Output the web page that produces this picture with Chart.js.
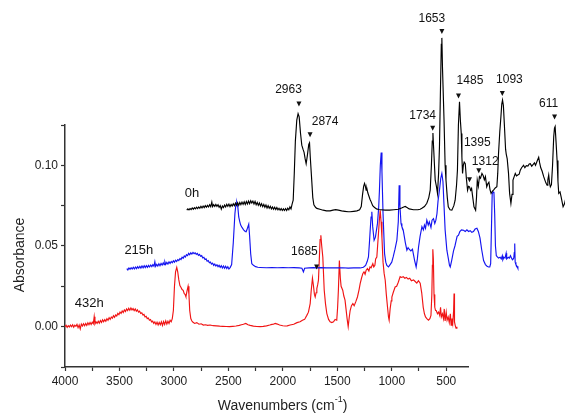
<!DOCTYPE html>
<html><head><meta charset="utf-8">
<script src="https://cdn.jsdelivr.net/npm/chart.js@4/dist/chart.umd.min.js"></script>
<style>html,body{margin:0;padding:0;background:#fff}#wrap{width:565px;height:414px;position:relative}</style>
</head><body><div id="wrap"><canvas id="c" width="565" height="414"></canvas></div>
<script>
// ---- 0h (black) ----
const blackX = [2882,2872,2862,2852,2842,2832,2822,2812,2802,2792,2782,2772,2762,2752,2742,2732,2722,2712,2702,2692,2682,2672,2662,2652,2645,2635,2625,2615,2605,2595,2585,2575,2565,2555,2545,2535,2525,2515,2505,2495,2485,2475,2465,2455,2445,2435,2425,2415,2405,2395,2385,2375,2365,2355,2345,2335,2325,2315,2305,2295,2285,2275,2265,2255,2245,2235,2225,2215,2205,2195,2185,2175,2165,2155,2145,2135,2125,2115,2105,2095,2085,2075,2065,2055,2045,2035,2025,2015,2005,1995,1985,1975,1965,1955,1945,1935,1925,1915,1905,1895,1885,1872,1860,1850,1838,1826,1815,1805,1795,1786,1775,1762,1755,1748,1735,1725,1715,1700,1688,1660,1630,1600,1566,1540,1515,1490,1460,1430,1400,1382,1350,1320,1295,1280,1268,1258,1250,1244,1235,1228,1220,1210,1200,1190,1175,1160,1140,1122,1100,1060,1020,980,940,910,890,877,860,840,800,760,739,720,700,678,660,647,636,628,622,615,601,590,580,570,562,552,545,540,534,520,510,502,490,481,465,448,430,418,405,397,388,378,370,362,356,350,343,335,325,315,304,295,286,276,267,256,245,230,222,215,205,195,185,172,160,150,140,128,118,108,98,88,75,62,50,35,27,20,8,-2,-10,-17,-25,-34,-45,-51,-60,-72,-82,-94,-104,-113,-124,-134,-145,-157,-170,-180,-192,-210,-222,-235,-250,-262,-272,-285,-297,-310,-320,-334,-349,-358,-368,-380,-395,-405,-416,-426,-433,-441,-449,-456,-466,-476,-487,-494,-500,-508,-518,-526,-533,-545,-555,-565,-573,-585,-594,-605];
const blackY = [0.0722,0.0730,0.0724,0.0732,0.0726,0.0736,0.0728,0.0738,0.0730,0.0740,0.0732,0.0742,0.0734,0.0746,0.0736,0.0748,0.0738,0.0750,0.0740,0.0752,0.0742,0.0756,0.0744,0.0772,0.0744,0.0756,0.0746,0.0758,0.0746,0.0756,0.0740,0.0750,0.0728,0.0748,0.0738,0.0754,0.0742,0.0758,0.0746,0.0760,0.0744,0.0758,0.0748,0.0762,0.0750,0.0766,0.0752,0.0768,0.0752,0.0770,0.0756,0.0772,0.0758,0.0774,0.0758,0.0776,0.0760,0.0778,0.0762,0.0780,0.0766,0.0778,0.0760,0.0776,0.0756,0.0770,0.0752,0.0766,0.0748,0.0762,0.0744,0.0758,0.0740,0.0754,0.0736,0.0750,0.0734,0.0746,0.0730,0.0742,0.0728,0.0740,0.0726,0.0738,0.0724,0.0734,0.0722,0.0732,0.0720,0.0730,0.0720,0.0732,0.0720,0.0734,0.0724,0.0742,0.0730,0.0760,0.0784,0.095,0.115,0.128,0.132,0.130,0.120,0.1125,0.110,0.108,0.104,0.101,0.106,0.113,0.114,0.105,0.091,0.080,0.0755,0.0740,0.0733,0.0728,0.0722,0.0718,0.0718,0.0722,0.0725,0.0722,0.0718,0.0715,0.0712,0.0712,0.0715,0.0718,0.0725,0.0745,0.0820,0.0870,0.0888,0.0875,0.0846,0.0855,0.0830,0.0810,0.0790,0.0775,0.0750,0.0740,0.0730,0.0726,0.0725,0.0722,0.0722,0.0725,0.0728,0.0735,0.0742,0.0745,0.0738,0.0730,0.0725,0.0725,0.0728,0.0735,0.0745,0.0765,0.0800,0.0846,0.100,0.115,0.120,0.110,0.0908,0.0870,0.0826,0.095,0.1115,0.150,0.175,0.179,0.160,0.128,0.100,0.0908,0.080,0.0743,0.0725,0.0722,0.0750,0.0784,0.088,0.097,0.125,0.1394,0.128,0.1198,0.105,0.095,0.100,0.102,0.101,0.092,0.0846,0.0870,0.0867,0.0845,0.0857,0.080,0.0743,0.0722,0.080,0.0908,0.087,0.093,0.092,0.095,0.0935,0.091,0.0930,0.0867,0.0885,0.0895,0.085,0.0826,0.0840,0.0850,0.0860,0.0867,0.095,0.107,0.121,0.130,0.138,0.1404,0.137,0.125,0.110,0.107,0.104,0.095,0.0826,0.0764,0.082,0.0908,0.093,0.095,0.0935,0.094,0.0945,0.097,0.0985,0.100,0.0985,0.0998,0.0995,0.1008,0.101,0.0995,0.1005,0.1015,0.1000,0.1025,0.105,0.1015,0.0985,0.0965,0.093,0.091,0.089,0.0877,0.0910,0.094,0.0890,0.0867,0.0880,0.0995,0.1177,0.123,0.124,0.115,0.103,0.090,0.0826,0.0835,0.0805,0.0770,0.0743,0.0760,0.0784,0.0760];

// ---- 215h (blue) ----
const blueX = [3433,3423,3413,3403,3393,3383,3373,3363,3353,3343,3333,3323,3313,3303,3293,3283,3273,3263,3253,3243,3233,3223,3213,3203,3193,3183,3175,3168,3158,3148,3138,3128,3118,3108,3098,3090,3083,3075,3065,3055,3045,3035,3025,3015,3005,2995,2985,2975,2965,2955,2945,2935,2925,2915,2905,2895,2885,2875,2865,2855,2845,2835,2825,2815,2805,2795,2785,2775,2765,2755,2745,2735,2725,2715,2705,2695,2685,2675,2665,2655,2645,2635,2625,2615,2605,2595,2585,2575,2565,2555,2545,2535,2525,2515,2505,2495,2484,2470,2455,2440,2430,2423,2413,2405,2395,2387,2375,2360,2345,2337,2325,2313,2305,2295,2285,2270,2250,2230,2209,2150,2100,2050,2000,1950,1900,1850,1825,1811,1800,1760,1720,1688,1650,1600,1550,1500,1450,1400,1350,1290,1260,1240,1225,1214,1205,1198,1190,1183,1175,1162,1150,1140,1131,1120,1113,1105,1097,1090,1080,1066,1055,1045,1030,1015,1000,987,970,953,940,932,925,915,907,895,885,875,861,850,840,825,810,800,790,776,765,754,740,723,710,700,690,678,665,655,640,630,617,605,595,585,575,562,550,540,530,520,510,494,480,470,463,450,433,420,410,400,387,375,360,341,325,310,295,280,265,250,235,218,205,190,175,157,140,125,111,100,92,85,78,70,62,55,48,40,30,20,5,-5,-15,-20,-30,-40,-50,-55,-70,-80,-90,-103,-110,-120,-125,-129,-133,-140,-150,-158];
const blueY = [0.0360,0.0352,0.0364,0.0356,0.0366,0.0357,0.0368,0.0358,0.0370,0.0360,0.0372,0.0362,0.0374,0.0363,0.0376,0.0365,0.0378,0.0366,0.0378,0.0368,0.0380,0.0370,0.0382,0.0372,0.0384,0.0374,0.0402,0.0374,0.0386,0.0376,0.0390,0.0378,0.0392,0.0382,0.0396,0.0384,0.0402,0.0386,0.0398,0.0388,0.0402,0.0392,0.0404,0.0396,0.0408,0.0400,0.0412,0.0404,0.0416,0.0410,0.0422,0.0416,0.0430,0.0424,0.0438,0.0432,0.0446,0.0440,0.0454,0.0446,0.0458,0.0450,0.0460,0.0452,0.0458,0.0448,0.0454,0.0442,0.0448,0.0436,0.0440,0.0426,0.0430,0.0416,0.0420,0.0406,0.0410,0.0396,0.0400,0.0388,0.0394,0.0380,0.0388,0.0376,0.0384,0.0372,0.0380,0.0368,0.0378,0.0364,0.0376,0.0362,0.0374,0.0360,0.0372,0.0358,0.0366,0.0385,0.0520,0.0700,0.0764,0.0770,0.0740,0.0680,0.0650,0.0630,0.0615,0.0600,0.0590,0.0588,0.0610,0.0635,0.0560,0.0450,0.0390,0.0380,0.0372,0.0368,0.0367,0.0365,0.0366,0.0365,0.0366,0.0365,0.0366,0.0364,0.0362,0.0340,0.0362,0.0364,0.0366,0.0364,0.0366,0.0364,0.0365,0.0364,0.0365,0.0363,0.0364,0.0364,0.0368,0.0380,0.0405,0.0432,0.0520,0.0598,0.0680,0.0712,0.0620,0.0536,0.0555,0.0600,0.0640,0.0740,0.0846,0.1000,0.1080,0.0960,0.0700,0.0453,0.0400,0.0380,0.0370,0.0385,0.0400,0.0432,0.0480,0.0536,0.0650,0.0877,0.0750,0.0640,0.0620,0.0600,0.0560,0.0520,0.0474,0.0490,0.0480,0.0470,0.0480,0.0445,0.0410,0.0370,0.0420,0.0494,0.0560,0.0620,0.0600,0.0630,0.0610,0.0660,0.0630,0.0650,0.0615,0.0660,0.0670,0.0640,0.0660,0.0700,0.0780,0.0846,0.0920,0.0950,0.0900,0.0750,0.0600,0.0474,0.0420,0.0380,0.0370,0.0410,0.0470,0.0500,0.0530,0.0560,0.0567,0.0590,0.0600,0.0598,0.0590,0.0600,0.0590,0.0595,0.0585,0.0590,0.0605,0.0610,0.0590,0.0550,0.0480,0.0410,0.0385,0.0375,0.0370,0.0370,0.0390,0.0600,0.0820,0.0836,0.0835,0.0700,0.0500,0.0440,0.0432,0.0425,0.0430,0.0420,0.0440,0.0415,0.0430,0.0425,0.0455,0.0420,0.0430,0.0425,0.0440,0.0420,0.0415,0.0425,0.0460,0.0515,0.0400,0.0385,0.0375,0.0362];

// ---- 432h (red) ----
const redX = [4000,3990,3980,3970,3960,3950,3940,3930,3920,3910,3900,3890,3880,3870,3860,3850,3840,3830,3820,3810,3800,3790,3780,3770,3760,3750,3740,3732,3725,3715,3705,3695,3685,3675,3665,3655,3645,3635,3625,3615,3605,3595,3585,3575,3565,3555,3545,3535,3525,3515,3505,3495,3485,3475,3465,3455,3445,3435,3425,3415,3405,3395,3385,3375,3365,3355,3345,3335,3325,3315,3305,3295,3285,3275,3265,3255,3245,3235,3225,3215,3205,3195,3185,3175,3165,3155,3145,3135,3125,3115,3105,3095,3085,3075,3065,3055,3045,3035,3025,3015,3005,2995,2985,2974,2965,2955,2945,2937,2925,2915,2905,2898,2890,2880,2870,2862,2855,2845,2835,2827,2810,2790,2770,2750,2730,2710,2690,2668,2640,2610,2580,2550,2520,2490,2460,2430,2400,2380,2362,2340,2320,2300,2270,2240,2209,2180,2150,2120,2100,2087,2070,2050,2030,2000,1980,1960,1933,1900,1870,1842,1820,1800,1780,1765,1749,1740,1728,1720,1710,1703,1695,1688,1680,1673,1665,1658,1651,1643,1633,1620,1608,1596,1580,1566,1550,1535,1520,1505,1497,1490,1481,1472,1465,1450,1440,1429,1420,1410,1400,1390,1382,1370,1357,1345,1330,1315,1300,1290,1278,1265,1255,1245,1235,1223,1210,1200,1190,1174,1165,1155,1148,1137,1130,1122,1114,1106,1098,1090,1080,1070,1060,1050,1039,1030,1024,1015,1005,999,985,969,955,940,923,910,895,880,865,850,835,820,800,785,770,755,739,725,711,700,690,678,663,650,640,632,627,623,618,612,605,598,592,580,570,560,552,545,535,525,518,510,500,492,482,472,462,455,447,440,432,428,424,418,410,402];
const redY = [0.0000,0.0008,-0.0004,0.0006,-0.0002,0.0010,0.0000,0.0012,-0.0003,0.0009,0.0002,0.0014,-0.0006,0.0010,-0.0014,0.0016,0.0004,0.0018,0.0006,0.0020,0.0008,0.0024,0.0012,0.0026,0.0014,0.0028,0.0018,0.0062,0.0016,0.0030,0.0020,0.0034,0.0022,0.0038,0.0026,0.0042,0.0030,0.0044,0.0034,0.0050,0.0040,0.0055,0.0045,0.0060,0.0052,0.0068,0.0058,0.0072,0.0066,0.0082,0.0074,0.0090,0.0082,0.0098,0.0088,0.0104,0.0094,0.0110,0.0100,0.0114,0.0102,0.0116,0.0104,0.0112,0.0100,0.0110,0.0096,0.0104,0.0090,0.0096,0.0082,0.0086,0.0072,0.0076,0.0060,0.0064,0.0050,0.0054,0.0040,0.0044,0.0030,0.0034,0.0020,0.0030,0.0014,0.0028,0.0010,0.0026,0.0012,0.0030,0.0008,0.0032,0.0014,0.0036,0.0016,0.0034,0.0020,0.0040,0.0030,0.0050,0.0100,0.0250,0.0340,0.0367,0.0340,0.0290,0.0255,0.0246,0.0230,0.0225,0.0205,0.0200,0.0185,0.0220,0.0250,0.0200,0.0100,0.0050,0.0035,0.0029,0.0020,0.0025,0.0015,0.0018,0.0010,0.0012,0.0008,0.0010,0.0006,0.0005,0.0003,0.0002,0.0001,0.0000,0.0002,0.0004,0.0008,0.0012,0.0015,0.0020,0.0012,0.0008,0.0003,0.0001,0.0000,0.0002,0.0005,0.0010,0.0014,0.0015,0.0020,0.0016,0.0010,0.0006,0.0004,0.0005,0.0010,0.0015,0.0025,0.0030,0.0040,0.0045,0.0070,0.0090,0.0143,0.0220,0.0300,0.0260,0.0200,0.0184,0.0210,0.0236,0.0260,0.0288,0.0420,0.0540,0.0567,0.0500,0.0432,0.0226,0.0140,0.0081,0.0045,0.0030,0.0025,0.0030,0.0045,0.0040,0.0120,0.0226,0.0410,0.0300,0.0250,0.0226,0.0190,0.0164,0.0110,0.0050,0.0000,0.0060,0.0100,0.0130,0.0143,0.0130,0.0155,0.0184,0.0230,0.0267,0.0300,0.0330,0.0340,0.0325,0.0350,0.0360,0.0345,0.0370,0.0365,0.0390,0.0370,0.0380,0.0420,0.0432,0.0500,0.0578,0.0660,0.0722,0.0650,0.0550,0.0400,0.0330,0.0288,0.0200,0.0122,0.0060,0.0040,0.0110,0.0160,0.0184,0.0215,0.0246,0.0250,0.0275,0.0310,0.0305,0.0310,0.0300,0.0305,0.0295,0.0300,0.0285,0.0290,0.0280,0.0270,0.0285,0.0270,0.0210,0.0120,0.0080,0.0060,0.0050,0.0040,0.0050,0.0070,0.0200,0.0380,0.0480,0.0420,0.0200,0.0120,0.0100,0.0100,0.0080,0.0090,0.0070,0.0120,0.0060,0.0080,0.0050,0.0110,0.0035,0.0090,0.0040,0.0060,0.0025,0.0080,0.0010,0.0050,0.0020,0.0100,0.0205,0.0030,0.0010,-0.0010,0.0000];

// ---- axes ----
const xTickValues = [4000,3750,3500,3250,3000,2750,2500,2250,2000,1750,1500,1250,1000,750,500];
const xLabelValues = [4000,3500,3000,2500,2000,1500,1000,500];
const yTickValues = [-0.025,0,0.025,0.05,0.075,0.1,0.125];
const yLabelValues = [0,0.05,0.1];

// ---- annotations ----
const peakLabels = ['2963','2874','1734','1653','1485','1395','1312','1093','611','1685'];
const peakMarkX  = [1852,1750,624,540,387,286,201,-15,-495,1690];
const peakMarkY  = [0.138,0.119,0.123,0.183,0.143,0.091,0.0966,0.1445,0.130,0.037];
const peakTextX  = [1948,1612,716,632,282,215,142,-80,-440,1802];
const peakTextY  = [0.147,0.127,0.131,0.191,0.1525,0.114,0.102,0.153,0.138,0.0466];
const seriesNames = ['0h','215h','432h'];
const nameX = [2834,3322,3777];
const nameY = [0.0828,0.047,0.0142];

const FONT = "'Liberation Sans', Arial, sans-serif";
const toPts = (xs, ys) => xs.map((x, i) => ({x: x, y: ys[i]}));

const annot = {
  id: 'annot',
  afterDatasetsDraw(chart) {
    const {ctx, scales: {x, y}, chartArea} = chart;
    ctx.save();
    ctx.fillStyle = '#111';
    ctx.font = '12px ' + FONT;
    ctx.textAlign = 'center';
    ctx.textBaseline = 'middle';
    peakLabels.forEach((t, i) => {
      ctx.fillText(t, x.getPixelForValue(peakTextX[i]), y.getPixelForValue(peakTextY[i]));
      const px = x.getPixelForValue(peakMarkX[i]), py = y.getPixelForValue(peakMarkY[i]);
      ctx.beginPath();
      ctx.moveTo(px - 2.5, py - 2.5);
      ctx.lineTo(px + 2.5, py - 2.5);
      ctx.lineTo(px, py + 2.5);
      ctx.closePath();
      ctx.fill();
    });
    ctx.font = '13px ' + FONT;
    seriesNames.forEach((t, i) => {
      ctx.fillText(t, x.getPixelForValue(nameX[i]), y.getPixelForValue(nameY[i]));
    });
    // axis titles
    ctx.font = '14px ' + FONT;
    ctx.fillStyle = '#222';
    const cx = (chartArea.left + chartArea.right) / 2 + 16;
    const base = 'Wavenumbers (cm';
    const sup = '-1';
    const wBase = ctx.measureText(base).width;
    ctx.font = '9px ' + FONT;
    const wSup = ctx.measureText(sup).width;
    ctx.font = '14px ' + FONT;
    const wEnd = ctx.measureText(')').width;
    const total = wBase + wSup + wEnd;
    let sx = cx - total / 2;
    const ty = chartArea.bottom + 39;
    ctx.textAlign = 'left';
    ctx.fillText(base, sx, ty);
    ctx.font = '9px ' + FONT;
    ctx.fillText(sup, sx + wBase, ty - 6);
    ctx.font = '14px ' + FONT;
    ctx.fillText(')', sx + wBase + wSup, ty);
    ctx.translate(20, (chartArea.top + chartArea.bottom) / 2 + 9);
    ctx.rotate(-Math.PI / 2);
    ctx.textAlign = 'center';
    ctx.fillText('Absorbance', 0, 0);
    ctx.restore();
  }
};

const isIn = (v, arr) => arr.some(a => Math.abs(a - v) < 1e-9);

new Chart(document.getElementById('c'), {
  type: 'line',
  data: {
    datasets: [
      {label: '0h', data: toPts(blackX, blackY), borderColor: '#000000'},
      {label: '215h', data: toPts(blueX, blueY), borderColor: '#1414f0'},
      {label: '432h', data: toPts(redX, redY), borderColor: '#f01414'}
    ]
  },
  options: {
    responsive: false,
    animation: false,
    devicePixelRatio: 1,
    layout: {padding: {top: 125, right: 97, left: 0, bottom: 0}},
    elements: {
      line: {borderWidth: 1.15, tension: 0, fill: false},
      point: {radius: 0, hoverRadius: 0}
    },
    datasets: {line: {clip: false, spanGaps: true}},
    plugins: {legend: {display: false}, tooltip: {enabled: false}},
    events: [],
    scales: {
      x: {
        type: 'linear',
        min: 300, max: 4000, reverse: true, bounds: 'data',
        afterBuildTicks: s => { s.ticks = xTickValues.map(v => ({value: v})); },
        afterFit: s => { s.height = 47; },
        ticks: {
          autoSkip: false, maxRotation: 0, minRotation: 0, padding: 3,
          color: '#222', font: {family: FONT, size: 12},
          callback: v => isIn(v, xLabelValues) ? String(v) : ''
        },
        grid: {display: true, drawOnChartArea: false, drawTicks: true, tickLength: 4, color: '#333', tickWidth: 1.2},
        border: {display: true, color: '#333', width: 1.5}
      },
      y: {
        type: 'linear',
        min: -0.025, max: 0.125, bounds: 'data',
        afterBuildTicks: s => { s.ticks = yTickValues.map(v => ({value: v})); },
        afterFit: s => { s.width = 65; },
        ticks: {
          autoSkip: false, padding: 3,
          color: '#222', font: {family: FONT, size: 12},
          callback: v => isIn(v, yLabelValues) ? v.toFixed(2) : ''
        },
        grid: {display: true, drawOnChartArea: false, drawTicks: true, tickLength: 4, color: '#333', tickWidth: 1.2},
        border: {display: true, color: '#333', width: 1.5}
      }
    }
  },
  plugins: [annot]
});
</script>
</body></html>
